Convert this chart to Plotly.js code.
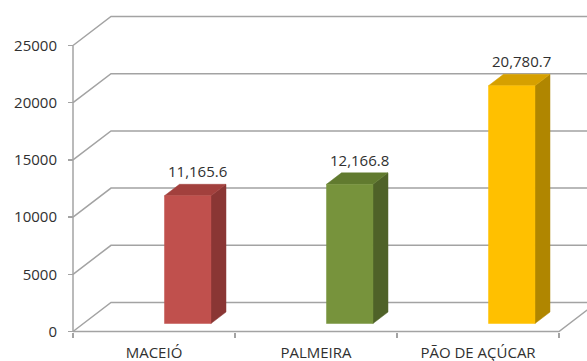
<!DOCTYPE html>
<html>
<head>
<meta charset="utf-8">
<script src="https://cdn.plot.ly/plotly-3.0.1.min.js"></script>
<style>html,body{margin:0;padding:0;background:#fff;}#chart{width:587px;height:361px;}</style>
</head>
<body>
<div id="chart"></div>
<script>
// ---- data ----
const categories = ['MACEIÓ', 'PALMEIRA', 'PÃO DE AÇÚCAR'];
const values = [11165.6, 12166.8, 20780.7];
const valueLabels = ['11,165.6', '12,166.8', '20,780.7'];
const yTicks = [0, 5000, 10000, 15000, 20000, 25000];
const yTickText = ['0', '5000', '10000', '15000', '20000', '25000'];
const frontColors = ['#C0504D', '#77933C', '#FFC000'];
const sideColors = ['#8A3634', '#4F6228', '#B08600'];
const topColors = ['#A2403D', '#617A2F', '#D6A000'];

// ---- oblique 3D projection in data units ----
const W = 587, H = 361;
const pxPerCat = 162, pxPerVal = 286 / 25000;
const frontX0 = 154;          // pixel of category 0 centre (front)
const frontY0 = 331.5;        // pixel of value 0 (front)
const DX = 38 / pxPerCat;     // depth unit shift in x
const DY = 29 / pxPerVal;     // depth unit shift in value
function P(x, v, z) { return [x + z * DX, v + z * DY]; }

const xRange = [(0 - frontX0) / pxPerCat, (W - frontX0) / pxPerCat];
const yRange = [-(H - frontY0) / pxPerVal, frontY0 / pxPerVal];

const gridColor = '#a3a3a3';
const traces = [];
function poly(pts, color, fill) {
  const xs = pts.map(p => p[0]), ys = pts.map(p => p[1]);
  if (fill) {
    traces.push({x: xs.concat([xs[0]]), y: ys.concat([ys[0]]), mode: 'lines', fill: 'toself',
      fillcolor: fill, line: {color: fill, width: 0.5}, hoverinfo: 'skip', showlegend: false});
  } else {
    traces.push({x: xs, y: ys, mode: 'lines', line: {color: color, width: 1.5},
      hoverinfo: 'skip', showlegend: false});
  }
}

const left = -0.5, right = categories.length - 0.5;
// back wall gridlines with left-side diagonals
yTicks.forEach(v => {
  poly([P(left, v, 0), P(left, v, 1), P(right + 2, v, 1)], gridColor);
});
// floor front edge and right edge
poly([P(left, 0, 0), P(right, 0, 0), P(right, 0, 1)], gridColor);
// front vertical axis
poly([P(left, 0, 0), P(left, yTicks[yTicks.length - 1], 0)], gridColor);

// bars
const bw = 0.287, zf = 0.276, zb = zf + 0.395;
const annotations = [];
values.forEach((v, i) => {
  const x0 = i, x1 = i + bw;
  poly([P(x1, 0, zf), P(x1, 0, zb), P(x1, v, zb), P(x1, v, zf)], null, sideColors[i]);
  poly([P(x0, v, zf), P(x1, v, zf), P(x1, v, zb), P(x0, v, zb)], null, topColors[i]);
  poly([P(x0, 0, zf), P(x1, 0, zf), P(x1, v, zf), P(x0, v, zf)], null, frontColors[i]);
  const c = P((x0 + x1) / 2 + 0.012, v, (zf + zb) / 2);
  annotations.push({x: c[0], y: c[1], xref: 'x', yref: 'y', text: valueLabels[i], showarrow: false,
    yshift: 19, font: {family: 'Open Sans', size: 15, color: '#303030'}});
});

const catIdx = categories.map((c, i) => i);
const bounds = categories.map((c, i) => i - 0.5).concat([right]);

const layout = {
  width: W, height: H,
  margin: {l: 0, r: 0, t: 0, b: 0},
  paper_bgcolor: '#ffffff', plot_bgcolor: '#ffffff',
  showlegend: false,
  font: {family: 'Open Sans', size: 15, color: '#303030'},
  xaxis: {range: xRange, domain: [0, 1], anchor: 'free', position: (H - frontY0) / H,
    tickmode: 'array', tickvals: catIdx, ticktext: categories, ticks: '', ticklen: 0,
    ticklabelstandoff: 10,
    minor: {tickmode: 'array', tickvals: bounds, ticks: 'outside', ticklen: 5, tickcolor: gridColor, tickwidth: 1.5, showgrid: false},
    showgrid: false, zeroline: false, showline: false, fixedrange: true,
    tickfont: {family: 'Open Sans', size: 15, color: '#303030'}},
  yaxis: {range: yRange, domain: [0, 1], anchor: 'free', position: (frontX0 - 0.5 * pxPerCat) / W, side: 'left',
    tickmode: 'array', tickvals: yTicks, ticktext: yTickText, ticks: 'outside', ticklen: 5, tickcolor: gridColor, tickwidth: 1.5,
    ticklabelstandoff: 8,
    showgrid: false, zeroline: false, showline: false, fixedrange: true,
    tickfont: {family: 'Open Sans', size: 15, color: '#303030'}},
  annotations: annotations
};

Plotly.newPlot('chart', traces, layout, {staticPlot: true, displayModeBar: false});
</script>
</body>
</html>
